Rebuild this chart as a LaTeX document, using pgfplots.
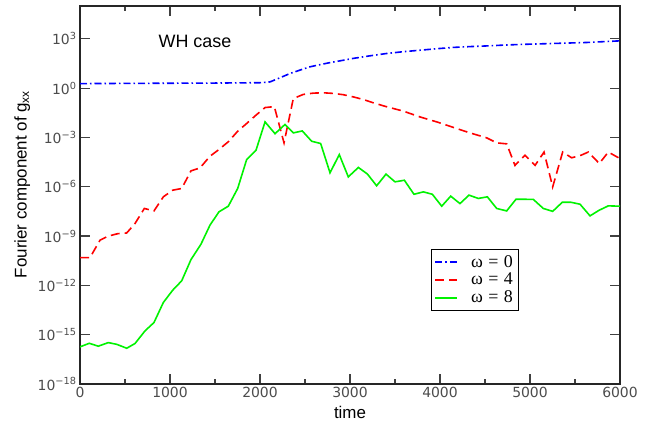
\documentclass[border=0pt]{standalone}
\usepackage{fontspec}
\setmainfont{Liberation Sans}
\newfontfamily\tickf{DejaVu Sans}
\newfontfamily\timesf{Liberation Serif}
\usepackage{pgfplots}
\pgfplotsset{compat=1.18}
\definecolor{tickgray}{gray}{0.3}
\definecolor{gblue}{rgb}{0,0,1}
\definecolor{gred}{rgb}{1,0,0}
\definecolor{ggreen}{rgb}{0,0.95,0}
\newcommand{\om}[1]{ω\hspace{0.3em}=\hspace{0.3em}#1}

\begin{document}
\begin{tikzpicture}
\begin{axis}[
    scale only axis,
    width=540bp, height=378bp,
    xmin=0, xmax=6000,
    ymode=log, ymin=1e-18, ymax=1e5,
    xtick={0,1000,2000,3000,4000,5000,6000},
    xticklabels={0,1000,2000,3000,4000,5000,6000},
    minor x tick num=1,
    ytick={1e-18,1e-15,1e-12,1e-9,1e-6,1e-3,1,1e3},
    yticklabels={10\textsuperscript{−18},10\textsuperscript{−15},10\textsuperscript{−12},10\textsuperscript{−9},10\textsuperscript{−6},10\textsuperscript{−3},10\textsuperscript{0},10\textsuperscript{3}},
    yminorticks=false,
    major tick length=10bp, minor tick length=5bp,
    tick style={line width=1.2bp, black!75},
    axis line style={line width=1.8bp, black!85},
    ticklabel style={font=\tickf\fontsize{14}{16}\selectfont, text=tickgray},
    xlabel={time},
    ylabel={Fourier component of g\textsubscript{xx}},
    label style={font=\fontsize{17}{20}\selectfont},
    xlabel style={at={(axis description cs:0.5,-0.09)}, anchor=base},
    ylabel style={at={(axis description cs:-0.107,0.528)}, anchor=center},
    legend style={at={(0.65,0.356)}, anchor=north west, draw=black,
        font=\timesf\fontsize{18}{19}\selectfont, inner xsep=3bp, inner ysep=5bp,
        row sep=3.5bp, column sep=11bp,
        nodes={inner ysep=0.5bp, inner xsep=2bp}},
    legend cell align=left,
    legend image code/.code={\draw[#1, line width=2bp] (0bp,0bp) -- (22bp,0bp);},
]

% omega = 0
\addplot[draw=gblue, line width=1.6bp, dash pattern=on 7bp off 3bp on 1.5bp off 3bp] coordinates {
    (0,1.9) (500,1.95) (1000,2.0) (1500,2.05) (2000,2.15) (2111,2.4)
    (2222,4.3) (2333,7.8) (2444,12.6) (2556,20) (2667,27) (2778,36)
    (2889,46) (3037,65) (3222,93) (3407,129) (3593,166) (3778,204)
    (3963,251) (4148,302) (4333,339) (4519,372) (4704,417) (4889,457)
    (5074,490) (5259,525) (5444,562) (5630,603) (5815,676) (6000,759)
};
\addlegendentry{\om{0}}

% omega = 4
\addplot[draw=gred, line width=1.6bp, dash pattern=on 9bp off 5bp] coordinates {
    (0,4.9e-11) (111,4.9e-11) (222,5.6e-10) (314,1.0e-9) (419,1.4e-9)
    (519,1.55e-9) (611,5.8e-9) (715,4.8e-8) (822,3.4e-8) (926,2.45e-7)
    (1030,6.2e-7) (1130,7.9e-7) (1233,9.3e-6) (1333,1.4e-5) (1444,7.2e-5)
    (1544,1.86e-4) (1648,5.5e-4) (1752,2.4e-3) (1852,7.1e-3) (1956,2.3e-2)
    (2056,6.6e-2) (2159,7.6e-2) (2267,4.7e-4) (2370,0.234) (2481,0.417)
    (2593,0.50) (2704,0.525) (2815,0.48) (2926,0.40) (3037,0.295)
    (3148,0.204) (3259,0.129) (3389,0.079) (3593,0.040) (3778,0.0178)
    (3963,8.9e-3) (4148,4.1e-3) (4333,1.9e-3) (4519,9.5e-4) (4630,4.7e-4)
    (4741,4.1e-4) (4833,2.0e-5) (4944,8.3e-5) (5056,2.0e-5) (5156,1.3e-4)
    (5252,9.8e-7) (5363,1.3e-4) (5463,5.8e-5) (5567,8.3e-5) (5648,1.3e-4)
    (5770,2.6e-5) (5870,1.3e-4) (6000,5.2e-5)
};
\addlegendentry{\om{4}}

% omega = 8
\addplot[draw=ggreen, line width=1.6bp] coordinates {
    (0,1.82e-16) (103,3.0e-16) (203,2.0e-16) (314,3.3e-16) (408,2.6e-16)
    (519,1.5e-16) (611,2.9e-16) (722,1.7e-15) (822,5.5e-15) (926,9.1e-14)
    (1030,5.1e-13) (1130,1.9e-12) (1233,3.7e-11) (1344,3.2e-10) (1444,4.6e-9)
    (1544,3.0e-8) (1648,6.6e-8) (1752,7.9e-7) (1852,4.6e-5) (1956,1.7e-4)
    (2056,8.9e-3) (2167,1.7e-3) (2278,6.2e-3) (2370,1.9e-3) (2470,2.5e-3)
    (2574,5.9e-4) (2674,4.3e-4) (2778,7.1e-6) (2881,9.1e-5) (2981,4.0e-6)
    (3093,1.5e-5) (3193,6.0e-6) (3296,1.15e-6) (3400,5.9e-6) (3500,2.0e-6)
    (3604,2.5e-6) (3711,3.5e-7) (3815,4.9e-7) (3915,3.5e-7) (4019,6.6e-8)
    (4119,2.7e-7) (4222,9.5e-8) (4322,3.1e-7) (4426,1.95e-7) (4526,2.45e-7)
    (4630,4.8e-8) (4741,3.4e-8) (4844,1.74e-7) (4944,1.74e-7) (5037,1.7e-7)
    (5148,4.8e-8) (5252,3.2e-8) (5359,1.15e-7) (5452,1.15e-7) (5556,8.7e-8)
    (5667,1.7e-8) (5767,3.7e-8) (5870,6.9e-8) (6000,6.6e-8)
};
\addlegendentry{\om{8}}

\node[anchor=base west, font=\fontsize{18}{20}\selectfont] at (rel axis cs:0.139,0.889) {WH case};
\end{axis}
\path (-80bp,-38bp) rectangle (570bp,384bp);
\end{tikzpicture}
\end{document}
